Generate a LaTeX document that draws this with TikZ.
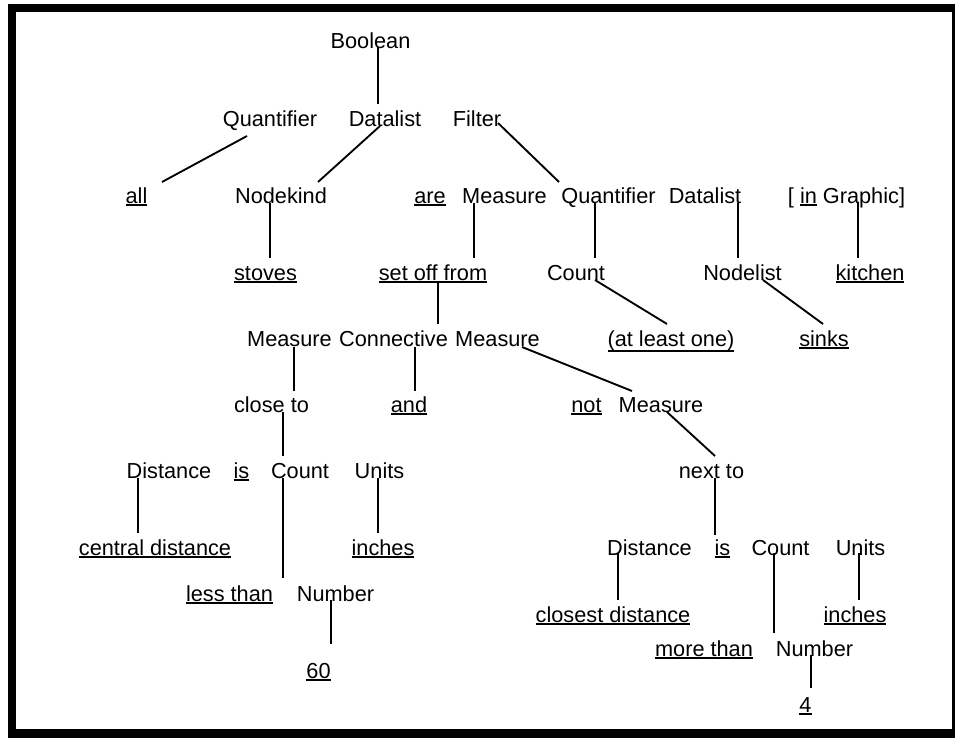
\documentclass[tikz,border=0pt]{standalone}
\usepackage{fontspec}
\setmainfont{Liberation Sans}
\newcommand\myul[2][-2.1pt]{\begingroup\setbox0\hbox{#2}\rlap{\rule[#1]{\wd0}{1.3pt}}\box0\endgroup}
\tikzset{
  lbl/.style={inner sep=0pt, anchor=base, font=\fontsize{16.3}{19}\selectfont},
  edge/.style={line width=1.4pt}
}
\begin{document}
\begin{tikzpicture}[x=0.75pt,y=-0.75pt]
\useasboundingbox (0,0) rectangle (955,738);
\fill[black] (8,4) rectangle (955,738);
\fill[white] (16,12) rectangle (952,729);
% nodes
\node[lbl] (boolean) at (370.5,49) {Boolean};
\node[lbl] (quant1) at (270,127) {Quantifier};
\node[lbl] (dl1) at (385,127) {Datalist};
\node[lbl] (filter) at (477,127) {Filter};
\node[lbl] (all) at (136.5,203) {\myul{all}};
\node[lbl] (nodekind) at (281,203) {Nodekind};
\node[lbl] (are) at (430,203) {\myul{are}};
\node[lbl] (meas1) at (504.5,203) {Measure};
\node[lbl] (quant2) at (608.5,203) {Quantifier};
\node[lbl] (dl2) at (705,203) {Datalist};
\node[lbl] (ingraphic) at (846.5,203) {[ \myul{in} Graphic]};
\node[lbl] (stoves) at (265.5,280) {\myul{stoves}};
\node[lbl] (setoff) at (433,280) {\myul{set off from}};
\node[lbl] (count1) at (576,280) {Count};
\node[lbl] (nodelist) at (742.5,280) {Nodelist};
\node[lbl] (kitchen) at (870,280) {\myul{kitchen}};
\node[lbl] (meas2) at (289.5,346) {Measure};
\node[lbl] (conn) at (393.5,346) {Connective};
\node[lbl] (meas3) at (497.5,346) {Measure};
\node[lbl] (atleast) at (671,346) {\myul[-4.2pt]{(at least one)}};
\node[lbl] (sinks) at (824,346) {\myul{sinks}};
\node[lbl] (closeto) at (271.5,412) {close to};
\node[lbl] (and) at (409,412) {\myul{and}};
\node[lbl] (not) at (586.5,412) {\myul{not}};
\node[lbl] (meas4) at (661,412) {Measure};
\node[lbl] (dist1) at (169,478) {Distance};
\node[lbl] (is1) at (241.5,478) {\myul{is}};
\node[lbl] (count2) at (300,478) {Count};
\node[lbl] (units1) at (379.5,478) {Units};
\node[lbl] (nextto) at (711.5,478) {next to};
\node[lbl] (central) at (155,555) {\myul{central distance}};
\node[lbl] (inches1) at (383,555) {\myul{inches}};
\node[lbl] (lessthan) at (229.5,601) {\myul{less than}};
\node[lbl] (number1) at (335.5,601) {Number};
\node[lbl] (sixty) at (318.5,678) {\myul{60}};
\node[lbl] (dist2) at (649.5,555) {Distance};
\node[lbl] (is2) at (722.5,555) {\myul{is}};
\node[lbl] (count3) at (780.5,555) {Count};
\node[lbl] (units2) at (860.5,555) {Units};
\node[lbl] (closest) at (613,622) {\myul{closest distance}};
\node[lbl] (inches2) at (855,622) {\myul{inches}};
\node[lbl] (morethan) at (704,656) {\myul{more than}};
\node[lbl] (number2) at (814.5,656) {Number};
\node[lbl] (four) at (805.5,712) {\myul{4}};
% connectors
\draw[edge] ([shift={(7.5,-2)}]boolean.base) -- ([shift={(-7,-23)}]dl1.base);
\draw[edge] ([shift={(-23,9)}]quant1.base) -- ([shift={(25.5,-21)}]all.base);
\draw[edge] ([shift={(-5,-1)}]dl1.base) -- ([shift={(37,-21)}]nodekind.base);
\draw[edge] ([shift={(21,-4)}]filter.base) -- ([shift={(-49.5,-21)}]quant2.base);
\draw[edge] ([shift={(-11,0)}]nodekind.base) -- ([shift={(4.5,-22)}]stoves.base);
\draw[edge] ([shift={(-30.5,0)}]meas1.base) -- ([shift={(41,-22)}]setoff.base);
\draw[edge] ([shift={(-13.5,0)}]quant2.base) -- ([shift={(19,-22)}]count1.base);
\draw[edge] ([shift={(33,0)}]dl2.base) -- ([shift={(-4.5,-22)}]nodelist.base);
\draw[edge] ([shift={(11.5,0)}]ingraphic.base) -- ([shift={(-12,-22)}]kitchen.base);
\draw[edge] ([shift={(5,2)}]setoff.base) -- ([shift={(44.5,-22)}]conn.base);
\draw[edge] ([shift={(19,0)}]count1.base) -- ([shift={(-4,-22)}]atleast.base);
\draw[edge] ([shift={(20.5,0)}]nodelist.base) -- ([shift={(-1,-22)}]sinks.base);
\draw[edge] ([shift={(4.5,1)}]meas2.base) -- ([shift={(22.5,-21)}]closeto.base);
\draw[edge] ([shift={(21.5,1)}]conn.base) -- ([shift={(6,-21)}]and.base);
\draw[edge] ([shift={(24.5,1)}]meas3.base) -- ([shift={(-29,-21)}]meas4.base);
\draw[edge] ([shift={(11.5,0)}]closeto.base) -- ([shift={(-17,-22)}]count2.base);
\draw[edge] ([shift={(6,0)}]meas4.base) -- ([shift={(3.5,-22)}]nextto.base);
\draw[edge] ([shift={(-31,0)}]dist1.base) -- ([shift={(-17,-22)}]central.base);
\draw[edge] ([shift={(-17,0)}]count2.base) -- ([shift={(-52.5,-23)}]number1.base);
\draw[edge] ([shift={(-1.5,0)}]units1.base) -- ([shift={(-5,-22)}]inches1.base);
\draw[edge] ([shift={(-4.5,-1)}]number1.base) -- ([shift={(12.5,-34)}]sixty.base);
\draw[edge] ([shift={(3.5,0)}]nextto.base) -- ([shift={(-7.5,-20)}]is2.base);
\draw[edge] ([shift={(-31.5,-2)}]dist2.base) -- ([shift={(5,-22)}]closest.base);
\draw[edge] ([shift={(-6.5,-2)}]count3.base) -- ([shift={(-40.5,-23)}]number2.base);
\draw[edge] ([shift={(-1.5,-2)}]units2.base) -- ([shift={(4,-22)}]inches2.base);
\draw[edge] ([shift={(-3.5,-1)}]number2.base) -- ([shift={(5.5,-24)}]four.base);
\end{tikzpicture}
\end{document}
